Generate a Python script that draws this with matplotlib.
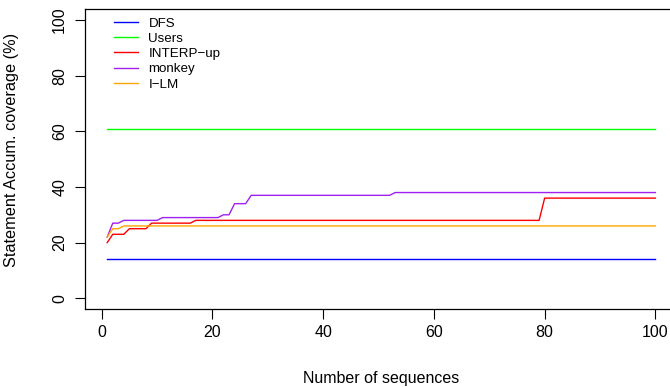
import numpy as np
import matplotlib
matplotlib.use("Agg")
import matplotlib.pyplot as plt

plt.rcParams['font.family'] = ['Liberation Sans', 'DejaVu Sans']

# coverage per number of sequences, stored as (value, run length)
sequences = np.arange(1, 101)
dfs_runs = [(14, 100)]
users_runs = [(61, 100)]
interp_runs = [(20, 1), (23, 3), (25, 4), (27, 8), (28, 63), (36, 21)]
monkey_runs = [(22, 1), (27, 2), (28, 7), (29, 11), (30, 2), (34, 3), (37, 26), (38, 48)]
ilm_runs = [(22, 1), (25, 2), (26, 97)]

labels = ["DFS", "Users", "INTERP\u2212up", "monkey", "I\u2212LM"]
colors = ["#0000FF", "#00FF00", "#FF0000", "#A020F0", "#FFA500"]


def expand(runs):
    vals, counts = zip(*runs)
    return np.repeat(vals, counts)


series = [expand(r) for r in (dfs_runs, users_runs, interp_runs, monkey_runs, ilm_runs)]

fig = plt.figure(figsize=(6.7, 3.87), dpi=100)
ax = fig.add_axes([0.1273, 0.2005, 0.8836, 0.7765])

for y, lab, col in zip(series, labels, colors):
    ax.plot(sequences, y, color=col, lw=1.0, label=lab)

# R-style 4% padding around the data range
ax.set_xlim(1 - 0.04 * 99, 100 + 0.04 * 99)
ax.set_ylim(-4, 104)
ax.set_xticks([0, 20, 40, 60, 80, 100])
ax.set_yticks([0, 20, 40, 60, 80, 100])
ax.tick_params(direction='out', length=7, width=0.8, labelsize=11.5)
ax.tick_params(axis='x', pad=4.5)
ax.tick_params(axis='y', pad=6)
for lab in ax.get_yticklabels():
    lab.set_rotation(90)
    lab.set_va('center')
for s in ax.spines.values():
    s.set_linewidth(0.9)

ax.set_xlabel("Number of sequences", fontsize=11.5, labelpad=22)
ax.set_ylabel("Statement Accum. coverage (%)", fontsize=11.7)
ax.yaxis.set_label_coords(-0.112, 0.53)

ax.legend(loc='upper left', bbox_to_anchor=(0.039, 0.99), frameon=False,
          fontsize=9.6, handlelength=1.8, handletextpad=0.8, labelspacing=0.22,
          borderaxespad=0)

fig.savefig("out.png", dpi=100)
